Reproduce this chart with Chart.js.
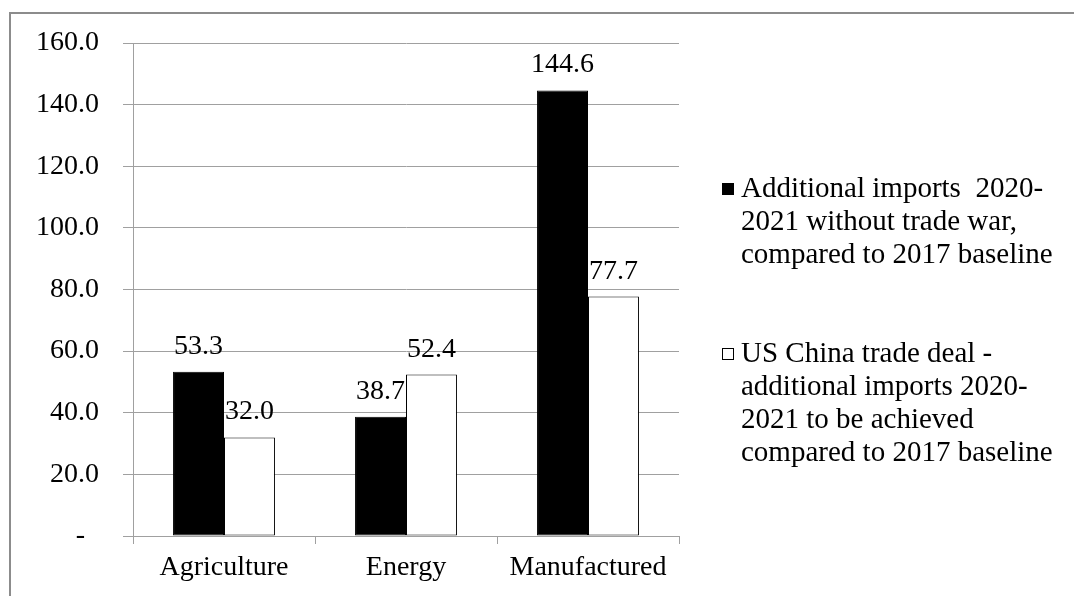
<!DOCTYPE html>
<html>
<head>
<meta charset="utf-8">
<script src="https://cdn.jsdelivr.net/npm/chart.js@4"></script>
<style>
  html, body { margin: 0; padding: 0; background: #fff; overflow: hidden; }
  body { width: 1074px; height: 596px; position: relative; font-family: 'Liberation Serif', 'Times New Roman', serif; }
  #frame { position: absolute; left: 9px; top: 12px; width: 1200px; height: 700px; border: 2px solid #8c8c8c; }
  #wrap { position: absolute; left: 0; top: 0; width: 1074px; height: 596px; }
  #legend { position: absolute; left: 0; top: 0; font-size: 29px; line-height: 33px; color: #000; }
  .item { position: absolute; left: 741px; white-space: nowrap; }
  .box { position: absolute; width: 10px; height: 10px; border: 1px solid #000; }
</style>
</head>
<body>
<div id="frame"></div>
<div id="wrap"><canvas id="chart" width="1074" height="596"></canvas></div>
<div id="legend"></div>
<script>
// Dane
const categories = ['Agriculture', 'Energy', 'Manufactured'];
const withoutWar = [53.3, 38.7, 144.6];
const tradeDeal = [32.0, 52.4, 77.7];
const seriesNames = [
  'Additional imports  2020-2021 without trade war, compared to 2017 baseline',
  'US China trade deal - additional imports 2020-2021 to be achieved compared to 2017 baseline'
];
// ręczne łamanie linii legendy (jak w oryginale)
const legendLines = [
  ['Additional imports\u00a0 2020-', '2021 without trade war,', 'compared to 2017 baseline'],
  ['US China trade deal -', 'additional imports 2020-', '2021 to be achieved', 'compared to 2017 baseline']
];
const yTicks = [0, 20, 40, 60, 80, 100, 120, 140, 160];

const FONT = "'Liberation Serif', 'Times New Roman', serif";
const gridGray = '#a0a0a0';

// etykiety wartości nad słupkami
const valueLabels = {
  id: 'valueLabels',
  afterDatasetsDraw(chart) {
    const ctx = chart.ctx;
    ctx.save();
    ctx.font = '28px ' + FONT;
    ctx.fillStyle = '#000';
    ctx.textAlign = 'center';
    ctx.textBaseline = 'alphabetic';
    chart.data.datasets.forEach((ds, i) => {
      chart.getDatasetMeta(i).data.forEach((bar, j) => {
        ctx.fillText(ds.data[j].toFixed(1), bar.x, bar.y - 18);
      });
    });
    ctx.restore();
  }
};

new Chart(document.getElementById('chart'), {
  type: 'bar',
  data: {
    labels: categories,
    datasets: [
      { label: seriesNames[0], data: withoutWar, backgroundColor: '#000', borderColor: '#000', borderWidth: 1, borderSkipped: false },
      { label: seriesNames[1], data: tradeDeal, backgroundColor: '#fff', borderColor: '#000', borderWidth: 1, borderSkipped: false }
    ]
  },
  options: {
    responsive: false,
    animation: false,
    layout: { padding: { top: 43, right: 395, bottom: 0, left: 0 } },
    datasets: { bar: { categoryPercentage: 0.56, barPercentage: 1 } },
    plugins: { legend: { display: false }, tooltip: { enabled: false } },
    scales: {
      x: {
        offset: true,
        grid: { offset: true, drawOnChartArea: false, drawTicks: true, tickLength: 8, color: gridGray },
        border: { color: gridGray, width: 1 },
        ticks: { color: '#000', padding: 7, font: { family: FONT, size: 28, lineHeight: 1.2 } },
        afterFit: s => { s.height = 60; }
      },
      y: {
        min: 0, max: 160,
        afterBuildTicks: s => { s.ticks = yTicks.map(v => ({ value: v })); },
        grid: { color: gridGray, tickLength: 10, lineWidth: 1 },
        border: { color: gridGray, width: 1 },
        ticks: {
          color: '#000', padding: 24,
          font: { family: FONT, size: 28 },
          callback: v => v === 0 ? '-\u2007' : v.toFixed(1)
        },
        afterFit: s => { s.width = 133; }
      }
    }
  },
  plugins: [valueLabels]
});

// Legenda HTML
const legend = document.getElementById('legend');
const tops = [171, 336];
const fills = ['#000', '#fff'];
legendLines.forEach((lines, i) => {
  const box = document.createElement('div');
  box.className = 'box';
  box.style.left = '722px';
  box.style.top = (tops[i] + 12) + 'px';
  box.style.background = fills[i];
  legend.appendChild(box);
  const item = document.createElement('div');
  item.className = 'item';
  item.style.top = tops[i] + 'px';
  item.innerHTML = lines.join('<br>');
  legend.appendChild(item);
});
</script>
</body>
</html>
